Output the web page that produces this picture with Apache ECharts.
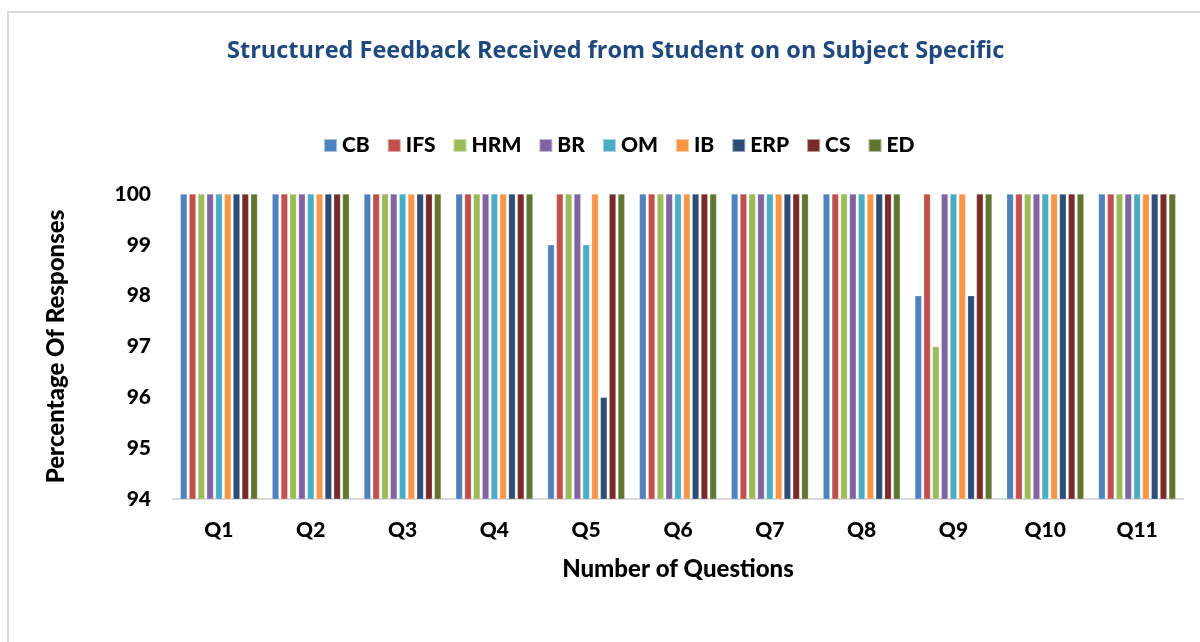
<!DOCTYPE html>
<html><head><meta charset="utf-8">
<script src="https://cdn.jsdelivr.net/npm/echarts@6/dist/echarts.min.js"></script>
<style>html,body{margin:0;padding:0;background:#fff}#c{width:1200px;height:642px}</style>
</head><body><div id="c"></div>
<script>
const categories = ['Q1','Q2','Q3','Q4','Q5','Q6','Q7','Q8','Q9','Q10','Q11'];
const seriesNames = ['CB','IFS','HRM','BR','OM','IB','ERP','CS','ED'];
const colors = ['#4F81BD','#C0504D','#9BBB59','#8064A2','#4BACC6','#F79646','#2C4D75','#772C2A','#5F7530'];
const CB  = [100,100,100,100,99,100,100,100,98,100,100];
const IFS = [100,100,100,100,100,100,100,100,100,100,100];
const HRM = [100,100,100,100,100,100,100,100,97,100,100];
const BR  = [100,100,100,100,100,100,100,100,100,100,100];
const OM  = [100,100,100,100,99,100,100,100,100,100,100];
const IB  = [100,100,100,100,100,100,100,100,100,100,100];
const ERP = [100,100,100,100,96,100,100,100,98,100,100];
const CS  = [100,100,100,100,100,100,100,100,100,100,100];
const ED  = [100,100,100,100,100,100,100,100,100,100,100];
const yTicks = [94,95,96,97,98,99,100];
const values = [CB,IFS,HRM,BR,OM,IB,ERP,CS,ED];
const font = 'Lato, "Open Sans", sans-serif';
const chart = echarts.init(document.getElementById('c'));
chart.setOption({
  animation:false,
  graphic:[{type:'rect',shape:{x:8,y:12,width:1200,height:640},style:{fill:'none',stroke:'#d9d9d9',lineWidth:2},silent:true}],
  title:{text:'Structured Feedback Received from Student on on Subject Specific',left:222,top:34,
    textStyle:{color:'#1F497D',fontSize:23.5,fontWeight:'bold',fontFamily:'"Open Sans", sans-serif'}},
  legend:{data:seriesNames,top:130,left:318,itemWidth:13,itemHeight:13,itemGap:17,icon:'rect',
    textStyle:{fontSize:21,fontWeight:900,color:'#000',fontFamily:font}},
  grid:{left:173,right:17,top:194,bottom:143},
  xAxis:{type:'category',data:categories,
    name:'Number of Questions',nameLocation:'middle',nameGap:58,
    nameTextStyle:{fontSize:24,fontWeight:900,color:'#000',fontFamily:font},
    axisLine:{lineStyle:{color:'#d9d9d9',width:2}},axisTick:{show:false},
    axisLabel:{fontSize:21,fontWeight:900,color:'#000',margin:21,fontFamily:font}},
  yAxis:{type:'value',min:yTicks[0],max:yTicks[yTicks.length-1],interval:1,
    name:'Percentage Of Responses',nameLocation:'middle',nameGap:105,nameRotate:90,
    nameTextStyle:{fontSize:24,fontWeight:900,color:'#000',fontFamily:font},
    axisLine:{show:false},axisTick:{show:false},splitLine:{show:false},
    axisLabel:{fontSize:21,fontWeight:900,color:'#000',margin:22,fontFamily:font}},
  series: seriesNames.map((n,i)=>({name:n,type:'bar',data:values[i],
    barCategoryGap:'16%',barGap:'30%',
    itemStyle:{color:colors[i],borderColor:'rgba(255,255,255,0.5)',borderWidth:0.5}}))
});
</script></body></html>
